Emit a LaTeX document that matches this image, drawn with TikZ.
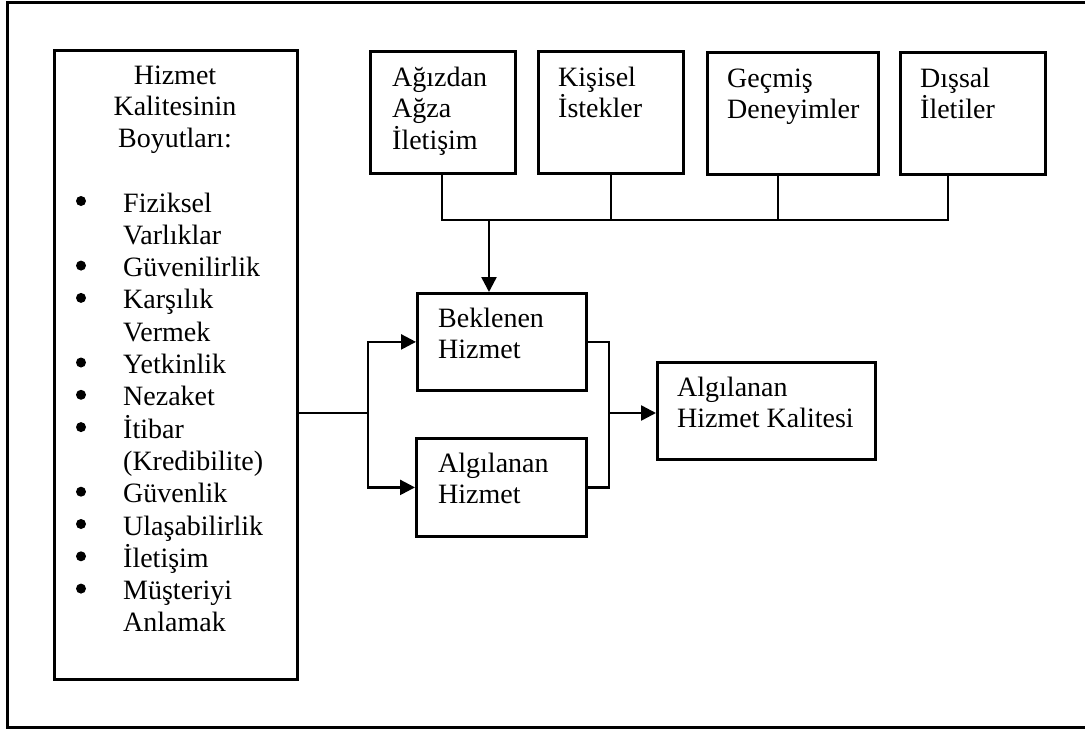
\documentclass[tikz,border=0pt]{standalone}
\usepackage{fontspec}
\setmainfont{Liberation Serif}
\usetikzlibrary{arrows.meta,calc}

\begin{document}
\begin{tikzpicture}[x=1pt,y=-1pt,
    box/.style={draw, line width=2.8pt, rectangle, inner sep=0pt, anchor=north west},
    txt/.style={inner sep=0pt, anchor=base west, font=\fontsize{28}{31.5}\selectfont},
    conn/.style={line width=2.5pt},
    arr/.style={conn, -{Triangle[length=15pt,width=15pt]}},
    frame/.style={line width=3pt}]
  \useasboundingbox (0,0) rectangle (1085,731);

  % outer frame (right side runs past the page edge)
  \begin{scope}
    \clip (0,0) rectangle (1085,731);
    \draw[frame] (1100,2) -- (7,2) -- (7,727) -- (1100,727);
  \end{scope}

  % dimensions box on the left
  \node[box, minimum width=243pt, minimum height=629pt] (dim) at (53,49) {};
  \node[txt, anchor=base] (dimtitle) at (175,84)
    {\parbox[t]{230pt}{\centering Hizmet\\Kalitesinin\\Boyutları:}};
  \node[txt, font=\fontsize{28}{32.3}\selectfont] (dimlist) at (123,212)
    {\parbox[t]{170pt}{%
      Fiziksel\\
      Varlıklar\\
      Güvenilirlik\\
      Karşılık\\
      Vermek\\
      Yetkinlik\\
      Nezaket\\
      İtibar\\
      (Kredibilite)\\
      Güvenlik\\
      Ulaşabilirlik\\
      İletişim\\
      Müşteriyi\\
      Anlamak}};
  % list bullets, on the first line of each item
  \foreach \i in {0,2,3,5,6,7,9,10,11,12}
    \fill (81,{201+\i*32.3}) circle (5pt);

  % expectation sources along the top
  \node[box, minimum width=145pt, minimum height=122pt] (b1) at (369,50) {};
  \node[box, minimum width=145pt, minimum height=122pt] (b2) at (537,50) {};
  \node[box, minimum width=171pt, minimum height=122pt] (b3) at (706,51) {};
  \node[box, minimum width=145pt, minimum height=122pt] (b4) at (899,51) {};
  \node[txt] (t1) at ($(b1.north west)+(23,36)$)
    {\parbox[t]{130pt}{Ağızdan\\Ağza\\İletişim}};
  \node[txt] (t2) at ($(b2.north west)+(21,36)$)
    {\parbox[t]{130pt}{Kişisel\\İstekler}};
  \node[txt] (t3) at ($(b3.north west)+(21,36)$)
    {\parbox[t]{160pt}{Geçmiş\\Deneyimler}};
  \node[txt] (t4) at ($(b4.north west)+(21,36)$)
    {\parbox[t]{130pt}{Dışsal\\İletiler}};

  % expected / perceived service and result
  \node[box, minimum width=169pt, minimum height=97pt] (bek) at (416,292) {};
  \node[box, minimum width=170pt, minimum height=98pt] (alg) at (415,437) {};
  \node[box, minimum width=218pt, minimum height=97pt] (res) at (656,361) {};
  \node[txt] (tbek) at ($(bek.north west)+(22,35)$)
    {\parbox[t]{150pt}{Beklenen\\Hizmet}};
  \node[txt] (talg) at ($(alg.north west)+(23,35)$)
    {\parbox[t]{150pt}{Algılanan\\Hizmet}};
  \node[txt] (tres) at ($(res.north west)+(21,35)$)
    {\parbox[t]{200pt}{Algılanan\\Hizmet Kalitesi}};

  % junction points
  \coordinate (busL) at (442,220);
  \coordinate (bus) at (489,220);
  \coordinate (s3) at (778,220);
  \coordinate (busR) at (948,220);
  \coordinate (split) at (368,413);
  \coordinate (join) at (609,413);

  % collecting bus under the top boxes
  \draw[conn] (b1.south -| busL) -- (busL) -- (busR) -- (b4.south -| busR);
  \draw[conn] (b2.south) -- (b2.south |- busR);
  \draw[conn] (b3.south -| s3) -- (s3);
  \draw[arr] (bus) -- (bek.north -| bus);

  % dimensions feed both service boxes
  \draw[conn] (dim.east |- split) -- (split);
  \draw[arr] (split) |- (bek.west);
  \draw[arr] (split) |- (alg.west);

  % both service boxes lead to perceived quality
  \draw[conn] (bek.east) -| (join) |- (alg.east);
  \draw[arr] (join) -- (res.west |- join);
\end{tikzpicture}
\end{document}
